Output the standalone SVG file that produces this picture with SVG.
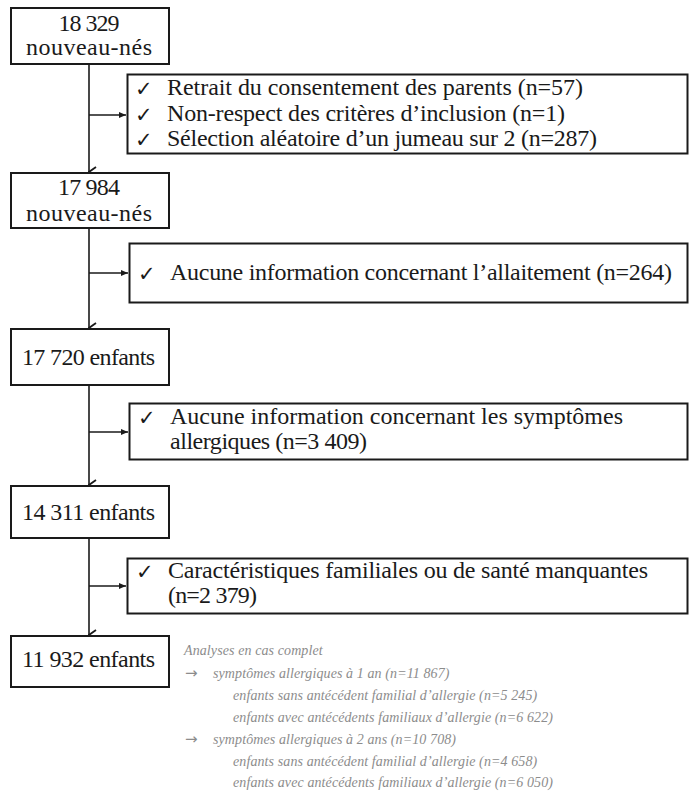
<svg xmlns="http://www.w3.org/2000/svg" width="689" height="794" viewBox="0 0 689 794">
<style>
.box{fill:#fff;stroke:#1a1a1a;stroke-width:2}
.t{font-family:"Liberation Serif","Times New Roman",serif;font-size:24px;fill:#1a1a1a}
.c{text-anchor:middle}
.ck{font-family:"DejaVu Sans",sans-serif;font-size:21px;fill:#1a1a1a}
.line{fill:none;stroke:#1a1a1a;stroke-width:1.6}
.note{font-family:"Liberation Serif","Times New Roman",serif;font-style:italic;font-size:14px;fill:#8c8c8c;letter-spacing:0.1px}
.arr{font-family:"DejaVu Sans",sans-serif;font-size:15px;fill:#8c8c8c}
</style>
<defs>
<marker id="vhead" markerWidth="12" markerHeight="10" refX="6" refY="9" orient="auto" markerUnits="userSpaceOnUse" viewBox="0 0 12 10">
<path d="M1,2 L6,9 L11,2" fill="none" stroke="#1a1a1a" stroke-width="1.8"/>
</marker>
<marker id="hhead" markerWidth="8" markerHeight="8" refX="7" refY="4" orient="auto" markerUnits="userSpaceOnUse" viewBox="0 0 8 8">
<path d="M0,1 L7,4 L0,7 Z" fill="#1a1a1a"/>
</marker>
</defs>

<g id="connectors">
<line class="line" x1="89" y1="64" x2="89" y2="172" marker-end="url(#vhead)"/>
<line class="line" x1="89" y1="115" x2="126" y2="115" marker-end="url(#hhead)"/>
<line class="line" x1="89" y1="228" x2="89" y2="328" marker-end="url(#vhead)"/>
<line class="line" x1="89" y1="273" x2="128" y2="273" marker-end="url(#hhead)"/>
<line class="line" x1="89" y1="385" x2="89" y2="485" marker-end="url(#vhead)"/>
<line class="line" x1="89" y1="432" x2="128" y2="432" marker-end="url(#hhead)"/>
<line class="line" x1="89" y1="538" x2="89" y2="635" marker-end="url(#vhead)"/>
<line class="line" x1="89" y1="586" x2="126" y2="586" marker-end="url(#hhead)"/>
</g>

<g id="n1">
<rect class="box" x="11" y="8" width="158" height="56"/>
<text class="t c" x="89" y="31" textLength="61">18 329</text>
<text class="t c" x="89" y="55" textLength="126">nouveau-nés</text>
</g>

<g id="e1">
<rect class="box" x="127.5" y="74.5" width="560" height="79"/>
<text class="ck" x="135" y="96">✓</text>
<text class="t" x="167" y="95" textLength="416">Retrait du consentement des parents (n=57)</text>
<text class="ck" x="135" y="122">✓</text>
<text class="t" x="167" y="121" textLength="398">Non-respect des critères d’inclusion (n=1)</text>
<text class="ck" x="135" y="147">✓</text>
<text class="t" x="167" y="146" textLength="430">Sélection aléatoire d’un jumeau sur 2 (n=287)</text>
</g>

<g id="n2">
<rect class="box" x="11" y="173" width="158" height="55"/>
<text class="t c" x="89" y="195" textLength="62">17 984</text>
<text class="t c" x="89" y="221" textLength="126">nouveau-nés</text>
</g>

<g id="e2">
<rect class="box" x="129.5" y="243.5" width="558" height="59"/>
<text class="ck" x="138" y="281">✓</text>
<text class="t" x="170" y="280" textLength="502">Aucune information concernant l’allaitement (n=264)</text>
</g>

<g id="n3">
<rect class="box" x="11" y="329" width="158" height="56"/>
<text class="t c" x="88.5" y="365" textLength="133">17 720 enfants</text>
</g>

<g id="e3">
<rect class="box" x="129.5" y="403.5" width="558" height="56"/>
<text class="ck" x="138" y="425">✓</text>
<text class="t" x="170" y="424" textLength="453">Aucune information concernant les symptômes</text>
<text class="t" x="170" y="449" textLength="197">allergiques (n=3 409)</text>
</g>

<g id="n4">
<rect class="box" x="11" y="486" width="158" height="52"/>
<text class="t c" x="88.5" y="520" textLength="133">14 311 enfants</text>
</g>

<g id="e4">
<rect class="box" x="127.5" y="558.5" width="560" height="55"/>
<text class="ck" x="136" y="579">✓</text>
<text class="t" x="168" y="578" textLength="480">Caractéristiques familiales ou de santé manquantes</text>
<text class="t" x="168" y="603" textLength="89">(n=2 379)</text>
</g>

<g id="n5">
<rect class="box" x="11" y="636" width="158" height="51"/>
<text class="t c" x="88.5" y="667" textLength="133">11 932 enfants</text>
</g>

<g id="note">
<text class="note" x="184" y="655">Analyses en cas complet</text>
<text class="arr" x="185" y="678">→</text>
<text class="note" x="213" y="678">symptômes allergiques à 1 an (n=11 867)</text>
<text class="note" x="233" y="700">enfants sans antécédent familial d’allergie (n=5 245)</text>
<text class="note" x="233" y="722">enfants avec antécédents familiaux d’allergie (n=6 622)</text>
<text class="arr" x="185" y="744">→</text>
<text class="note" x="213" y="744">symptômes allergiques à 2 ans  (n=10 708)</text>
<text class="note" x="233" y="766">enfants sans antécédent familial d’allergie (n=4 658)</text>
<text class="note" x="233" y="787">enfants avec antécédents familiaux d’allergie (n=6 050)</text>
</g>
</svg>
